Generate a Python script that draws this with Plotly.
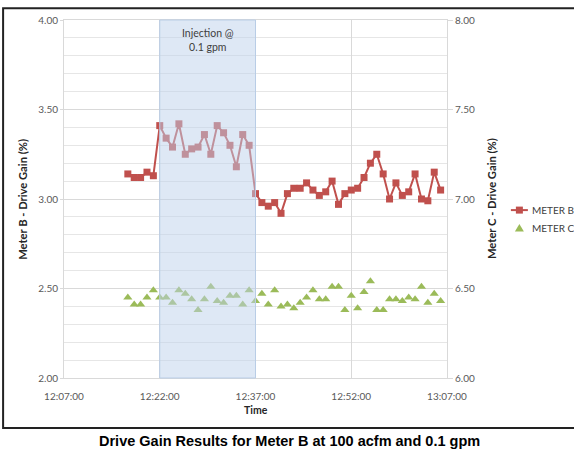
import plotly.graph_objects as go

DAY = "2020-01-01 "
times = ["12:17", "12:18", "12:19", "12:20", "12:21", "12:22", "12:23", "12:24", "12:25", "12:26",
         "12:27", "12:28", "12:29", "12:30", "12:31", "12:32", "12:33", "12:34", "12:35", "12:36",
         "12:37", "12:38", "12:39", "12:40", "12:41", "12:42", "12:43", "12:44", "12:45", "12:46",
         "12:47", "12:48", "12:49", "12:50", "12:51", "12:52", "12:53", "12:54", "12:55", "12:56",
         "12:57", "12:58", "12:59", "13:00", "13:01", "13:02", "13:03", "13:04", "13:05", "13:06"]
meter_b = [3.14, 3.12, 3.12, 3.15, 3.13, 3.41, 3.34, 3.29, 3.42, 3.25,
           3.28, 3.29, 3.36, 3.25, 3.41, 3.37, 3.30, 3.18, 3.36, 3.30,
           3.03, 2.98, 2.96, 2.98, 2.92, 3.03, 3.06, 3.06, 3.09, 3.05,
           3.02, 3.04, 3.10, 2.97, 3.03, 3.05, 3.06, 3.12, 3.20, 3.25,
           3.14, 3.00, 3.09, 3.02, 3.04, 3.14, 3.00, 2.99, 3.15, 3.05]
meter_c = [6.45, 6.41, 6.41, 6.45, 6.49, 6.45, 6.45, 6.42, 6.49, 6.47,
           6.44, 6.38, 6.44, 6.51, 6.43, 6.42, 6.46, 6.46, 6.41, 6.49,
           6.43, 6.47, 6.41, 6.49, 6.40, 6.41, 6.39, 6.42, 6.45, 6.49,
           6.44, 6.44, 6.51, 6.51, 6.38, 6.46, 6.39, 6.48, 6.54, 6.38,
           6.38, 6.44, 6.44, 6.43, 6.45, 6.44, 6.51, 6.42, 6.47, 6.43]
series_names = ["METER B", "METER C"]
x_range = ["12:07:00", "13:07:00"]
injection = ["12:22", "12:37"]
left_range = [2.0, 4.0]
right_range = [6.0, 8.0]

x = [DAY + t for t in times]
FONT = "Lato, 'Open Sans', sans-serif"
TICKC = "#595959"
GRID = "#d9d9d9"
RED = "#C0504D"
GREEN = "#9BBB59"

fig = go.Figure()
fig.add_trace(go.Scatter(
    x=x, y=meter_b, name=series_names[0], mode="lines+markers",
    line=dict(color=RED, width=2),
    marker=dict(symbol="square", size=7, color=RED),
))
fig.add_trace(go.Scatter(
    x=x, y=meter_c, name=series_names[1], mode="markers", yaxis="y2",
    marker=dict(symbol="triangle-up", size=8, color=GREEN),
))

# injection shading
fig.add_shape(type="rect", xref="x", yref="paper",
              x0=DAY + injection[0], x1=DAY + injection[1], y0=0, y1=1,
              fillcolor="rgba(190,210,236,0.5)", line=dict(color="#b9cde6", width=1),
              layer="above")
fig.add_annotation(x=DAY + "12:29:30", y=0.985, xref="x", yref="paper",
                   text="Injection @<br>0.1 gpm", showarrow=False, yanchor="top",
                   font=dict(family=FONT, size=10.5, color="#404040"))

# outer frame
fig.add_shape(type="rect", xref="paper", yref="paper",
              x0=-0.159, x1=1.45, y0=-0.14, y1=1.033,
              line=dict(color="#222222", width=2), fillcolor="rgba(0,0,0,0)")

# custom legend (placed manually so it fits at the right edge)
LX = 1.189   # symbol centre (paper)
LY = [0.469, 0.419]
fig.add_shape(type="line", xref="paper", yref="paper", x0=LX - 0.0222, x1=LX + 0.0222,
              y0=LY[0], y1=LY[0], line=dict(color=RED, width=2))
fig.add_shape(type="rect", xref="paper", yref="paper", xsizemode="pixel", ysizemode="pixel",
              xanchor=LX, yanchor=LY[0], x0=-3.5, x1=3.5, y0=-3.5, y1=3.5,
              fillcolor=RED, line=dict(width=0))
fig.add_shape(type="path", xref="paper", yref="paper", xsizemode="pixel", ysizemode="pixel",
              xanchor=LX, yanchor=LY[1], path="M -4.5,-3.5 L 4.5,-3.5 L 0,4 Z",
              fillcolor=GREEN, line=dict(width=0))
for name, ly in zip(series_names, LY):
    fig.add_annotation(x=1.2167, y=ly, xref="paper", yref="paper", xanchor="left",
                       yanchor="middle", text=name, showarrow=False,
                       font=dict(family=FONT, size=10, color="#404040"))

# axis titles
fig.add_annotation(x=-0.11, y=0.5, xref="paper", yref="paper", xanchor="center",
                   text="<b>Meter B - Drive Gain (%)</b>", textangle=-90, showarrow=False,
                   font=dict(family=FONT, size=11.2, color="#262626"))
fig.add_annotation(x=1.115, y=0.5, xref="paper", yref="paper", xanchor="center",
                   text="<b>Meter C - Drive Gain (%)</b>", textangle=-90, showarrow=False,
                   font=dict(family=FONT, size=11.2, color="#262626"))
fig.add_annotation(x=0.5, y=-0.09, xref="paper", yref="paper", yanchor="middle",
                   text="<b>Time</b>", showarrow=False,
                   font=dict(family=FONT, size=10.5, color="#262626"))
fig.add_annotation(x=0.59, y=-0.176, xref="paper", yref="paper", yanchor="middle",
                   text="<b>Drive Gain Results for Meter B at 100 acfm and 0.1 gpm</b>",
                   showarrow=False,
                   font=dict(family="Liberation Sans, Arial, sans-serif", size=14.5, color="#000000"))

fig.update_layout(
    width=574, height=455,
    margin=dict(l=64, r=127, t=20, b=77, autoexpand=False),
    paper_bgcolor="white", plot_bgcolor="white",
    font=dict(family=FONT, size=10, color=TICKC),
    showlegend=False,
    xaxis=dict(
        range=[DAY + x_range[0], DAY + x_range[1]], automargin=False,
        type="date", tick0=DAY + x_range[0], dtick=15 * 60 * 1000,
        tickformat="%H:%M:%S", showgrid=True, gridcolor=GRID, gridwidth=1,
        showline=True, linecolor=GRID, mirror=True, ticks="", ticklabelstandoff=9,
        tickfont=dict(family=FONT, size=10, color=TICKC), zeroline=False,
    ),
    yaxis=dict(
        range=left_range, dtick=0.5, tickformat=".2f", showgrid=True, automargin=False,
        gridcolor=GRID, gridwidth=1, showline=True, linecolor=GRID,
        ticks="outside", ticklen=3, tickcolor=GRID, zeroline=False,
        minor=dict(dtick=0.1, showgrid=True, gridcolor="#e6e6e6", ticks=""),
        tickfont=dict(family=FONT, size=10, color=TICKC),
    ),
    yaxis2=dict(
        range=right_range, dtick=0.5, tickformat=".2f", overlaying="y", side="right",
        showgrid=False, showline=True, linecolor=GRID, ticks="outside", ticklen=5,
        tickcolor=GRID, zeroline=False, automargin=False,
        tickfont=dict(family=FONT, size=10, color=TICKC),
    ),
)

fig.write_html("out.html")
